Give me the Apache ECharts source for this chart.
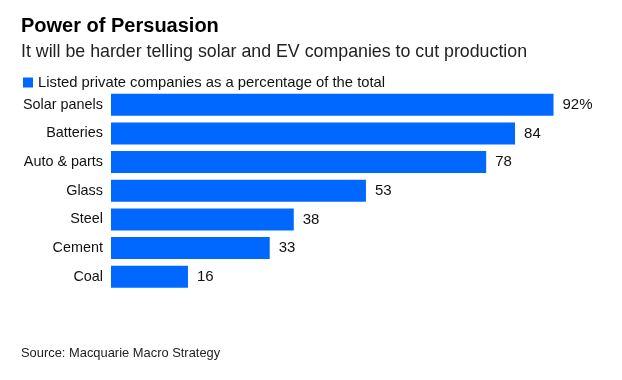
<!DOCTYPE html>
<html><head><meta charset="utf-8">
<script src="https://cdn.jsdelivr.net/npm/echarts@6/dist/echarts.min.js"></script>
<style>html,body{margin:0;padding:0;background:#fff}#c{width:622px;height:380px}</style>
</head><body><div id="c"></div>
<script>
const categories = ['Solar panels','Batteries','Auto & parts','Glass','Steel','Cement','Coal'];
const values = [92,84,78,53,38,33,16];
const seriesName = 'Listed private companies as a percentage of the total';
const FONT = '"Liberation Sans", Arial, sans-serif';
const chart = echarts.init(document.getElementById('c'));
chart.setOption({
  animation:false,
  backgroundColor:'#fff',
  title:[
    {text:'Power of Persuasion', left:16, top:11, textStyle:{fontFamily:FONT,fontSize:20,fontWeight:'bold',color:'#000'}},
    {text:'It will be harder telling solar and EV companies to cut production', left:16, top:38, textStyle:{fontFamily:FONT,fontSize:17.8,fontWeight:'normal',color:'#222'}},
    {text:'Source: Macquarie Macro Strategy', left:16, top:342, textStyle:{fontFamily:FONT,fontSize:12.9,fontWeight:'normal',color:'#222'}}
  ],
  legend:{left:18, top:70, itemWidth:10, itemHeight:10, itemGap:5, icon:'rect',
    textStyle:{fontFamily:FONT,fontSize:14.8,color:'#111',padding:[0,0,0,0]},
    data:[seriesName]},
  grid:{left:111, top:90.4, width:481, height:200.7, containLabel:false},
  xAxis:{type:'value', min:0, max:100, show:false},
  yAxis:{type:'category', data:categories, inverse:true,
    axisLine:{show:false}, axisTick:{show:false},
    axisLabel:{fontFamily:FONT, fontSize:14.4, color:'#111', margin:8}},
  series:[{name:seriesName, type:'bar', data:values, barWidth:22,
    itemStyle:{color:'#0068ff'},
    label:{show:true, position:'right', distance:9, fontFamily:FONT, fontSize:15, color:'#111',
      formatter:p=>p.dataIndex===0?p.value+'%':String(p.value)}}]
});
</script></body></html>
